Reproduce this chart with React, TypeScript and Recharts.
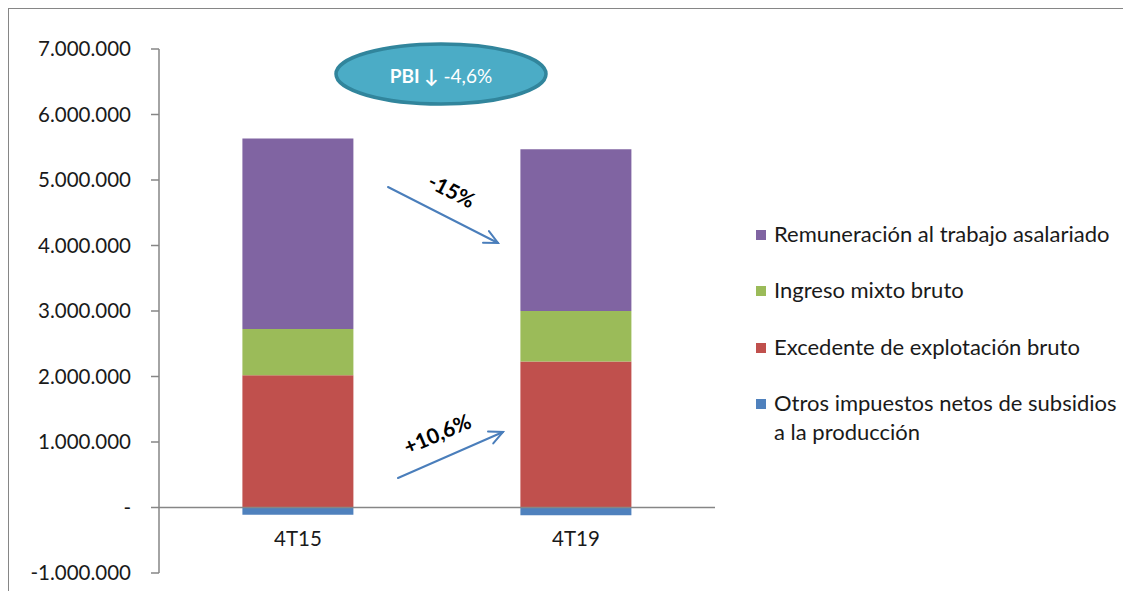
import React from 'react';
import { BarChart, Bar, XAxis, YAxis, ReferenceLine } from 'recharts';

// Series colours (Office palette)
const COLORS = {
  remuneracion: '#8064A2',
  ingreso: '#9BBB59',
  excedente: '#C0504D',
  otros: '#4F81BD',
  axis: '#868686',
  text: '#1a1a1a',
  arrow: '#4A7EBB',
  bubble: '#4BACC6',
  bubbleEdge: '#31859C',
};

const FONT = 'Lato, "Noto Sans", sans-serif';

const periods = ['4T15', '4T19'];
const otros = [-110000, -120000];
const excedente = [2020000, 2230000];
const ingresoMixto = [705000, 770000];
const remuneracion = [2910000, 2470000];
const yTicks = [-1000000, 0, 1000000, 2000000, 3000000, 4000000, 5000000, 6000000, 7000000];

// stacking order, bottom to top
const seriesKeys = ['otros', 'excedente', 'ingreso', 'remuneracion'] as const;
const seriesNames: Record<string, string> = {
  otros: 'Otros impuestos netos de subsidios a la producción',
  excedente: 'Excedente de explotación bruto',
  ingreso: 'Ingreso mixto bruto',
  remuneracion: 'Remuneración al trabajo asalariado',
};

const data = periods.map((p, i) => ({
  period: p,
  otros: otros[i],
  excedente: excedente[i],
  ingreso: ingresoMixto[i],
  remuneracion: remuneracion[i],
}));

const formatTick = (v: number) => {
  if (v === 0) return '-';
  const s = Math.abs(v).toString().replace(/\B(?=(\d{3})+(?!\d))/g, '.');
  return (v < 0 ? '-' : '') + s;
};

// category names sit just under the zero line, not at the bottom of the plot
const CategoryTick = ({ x, y, payload }: any) => (
  <text x={x} y={y - 37} textAnchor="middle" dominantBaseline="central" fill={COLORS.text} fontSize={20.5} fontFamily={FONT}>
    {payload.value}
  </text>
);

const LegendBox = () => (
  <div style={{ position: 'absolute', left: 747, top: 210, width: 380, fontFamily: FONT, fontSize: 22, color: COLORS.text }}>
    {[...seriesKeys].reverse().map((k) => (
      <div key={k} style={{ display: 'flex', alignItems: 'flex-start', marginBottom: 27.3, lineHeight: '29px' }}>
        <span style={{ width: 10, height: 10, background: COLORS[k], marginTop: 11, marginRight: 8, flexShrink: 0 }} />
        <span style={{ width: 352 }}>{seriesNames[k]}</span>
      </div>
    ))}
  </div>
);

const Arrow = ({ x1, y1, x2, y2 }: { x1: number; y1: number; x2: number; y2: number }) => {
  const a = Math.atan2(y2 - y1, x2 - x1);
  const h = 15;
  const s = 0.45;
  return (
    <g stroke={COLORS.arrow} strokeWidth={2} fill="none" strokeLinecap="round">
      <line x1={x1} y1={y1} x2={x2} y2={y2} />
      <polyline
        points={`${x2 - h * Math.cos(a - s)},${y2 - h * Math.sin(a - s)} ${x2},${y2} ${x2 - h * Math.cos(a + s)},${y2 - h * Math.sin(a + s)}`}
      />
    </g>
  );
};

const App: React.FC = () => {
  return (
    <div
      style={{
        position: 'relative',
        width: 1123,
        height: 584,
        borderTop: `2px solid ${COLORS.axis}`,
        borderLeft: `2px solid ${COLORS.axis}`,
        marginTop: -1,
        marginLeft: -1,
        boxSizing: 'border-box',
        background: '#fff',
      }}
    >
      <BarChart
        width={1121}
        height={582}
        data={data}
        stackOffset="sign"
        barCategoryGap="30%"
        margin={{ top: 40, right: 415, bottom: 17, left: 0 }}
      >
        <XAxis dataKey="period" height={1} axisLine={false} tickLine={false} tickSize={0} tick={<CategoryTick />} interval={0} />
        <YAxis
          width={150}
          domain={[-1000000, 7000000]}
          ticks={yTicks}
          tickFormatter={formatTick}
          axisLine={{ stroke: COLORS.axis, strokeWidth: 1.5 }}
          tickLine={{ stroke: COLORS.axis, strokeWidth: 1.5 }}
          tickSize={8}
          tickMargin={20}
          tick={{ fill: COLORS.text, fontSize: 20.5, fontFamily: FONT }}
        />
        <ReferenceLine y={0} stroke={COLORS.axis} strokeWidth={1.5} />
        {seriesKeys.map((k) => (
          <Bar key={k} dataKey={k} name={seriesNames[k]} stackId="a" fill={COLORS[k]} isAnimationActive={false} />
        ))}
      </BarChart>

      <LegendBox />

      {/* Annotations: GDP change bubble and growth arrows */}
      <svg
        width={1121}
        height={582}
        style={{ position: 'absolute', left: 0, top: 0, pointerEvents: 'none' }}
        fontFamily={FONT}
      >
        <ellipse cx={432} cy={65} rx={105} ry={30} fill={COLORS.bubble} stroke={COLORS.bubbleEdge} strokeWidth={3.5} />
        <text x={432} y={66} textAnchor="middle" dominantBaseline="central" fill="#fff" fontSize={19}>
          <tspan fontWeight="bold">PBI ↓</tspan>
          <tspan> -4,6%</tspan>
        </text>

        <Arrow x1={379} y1={178} x2={489} y2={234} />
        <text x={443} y={181} transform="rotate(27 443 181)" textAnchor="middle" dominantBaseline="central" fill="#000" fontSize={21} fontWeight="bold">
          -15%
        </text>

        <Arrow x1={389} y1={469} x2={494} y2={423} />
        <text x={428} y={424} transform="rotate(-23 428 424)" textAnchor="middle" dominantBaseline="central" fill="#000" fontSize={21} fontWeight="bold">
          +10,6%
        </text>
      </svg>
    </div>
  );
};

export default App;
